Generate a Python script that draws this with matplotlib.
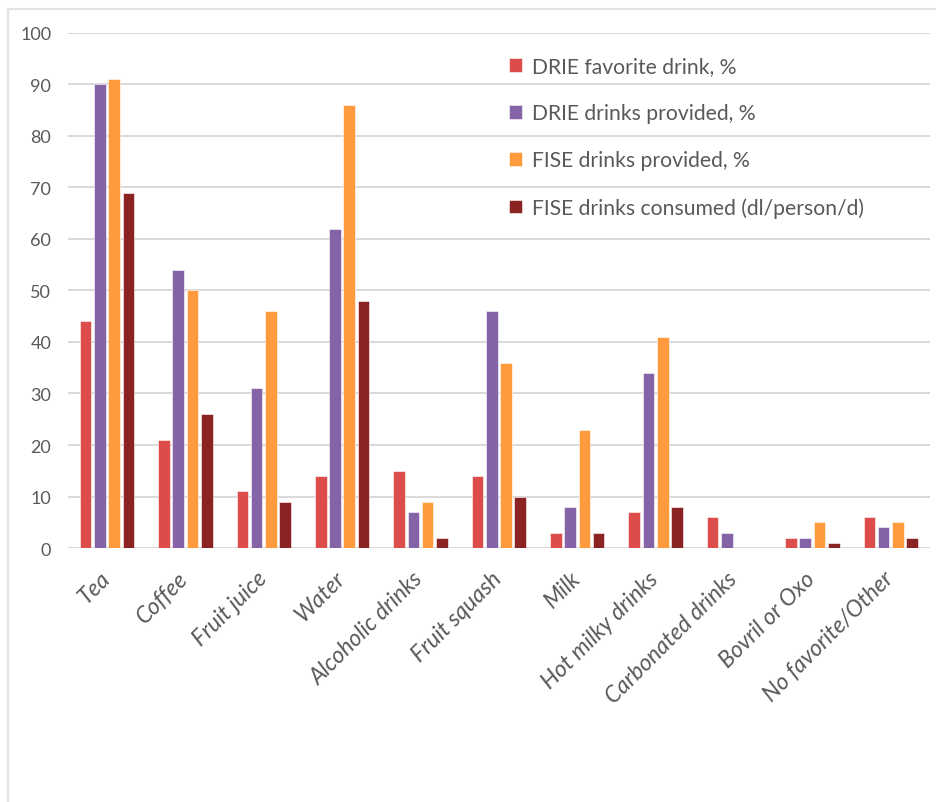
import numpy as np
import matplotlib.pyplot as plt
from matplotlib.lines import Line2D
import matplotlib.transforms as mtransforms

# Data
categories = ["Tea", "Coffee", "Fruit juice", "Water", "Alcoholic drinks",
              "Fruit squash", "Milk", "Hot milky drinks", "Carbonated drinks",
              "Bovril or Oxo", "No favorite/Other"]
drie_favorite = [44, 21, 11, 14, 15, 14, 3, 7, 6, 2, 6]
drie_provided = [90, 54, 31, 62, 7, 46, 8, 34, 3, 2, 4]
fise_provided = [91, 50, 46, 86, 9, 36, 23, 41, 0, 5, 5]
fise_consumed = [69, 26, 9, 48, 2, 10, 3, 8, 0, 1, 2]

series_labels = ["DRIE favorite drink, %", "DRIE drinks provided, %",
                 "FISE drinks provided, %", "FISE drinks consumed (dl/person/d)"]
series_colors = ["#DC4C4B", "#8563A7", "#FF9A3D", "#8B2323"]
y_ticks = [0, 10, 20, 30, 40, 50, 60, 70, 80, 90, 100]

text_color = "#595959"
grid_color = "#D9D9D9"
plt.rcParams['font.family'] = ['Lato', 'DejaVu Sans']

fig = plt.figure(figsize=(9.37, 8.03), dpi=100)
ax = fig.add_axes([0.0724, 0.3163, 0.92, 0.6414])

series = [drie_favorite, drie_provided, fise_provided, fise_consumed]
x = np.arange(len(categories))
stride = 0.182
bar_w = 0.148
for i, (vals, lab, col) in enumerate(zip(series, series_labels, series_colors)):
    offs = (i - 1.5) * stride
    ax.bar(x + offs, vals, width=bar_w, color=col, label=lab,
           edgecolor="white", linewidth=0.4, zorder=3)

ax.set_xlim(-0.5, len(categories) - 0.5)
ax.set_ylim(0, 100)
ax.set_yticks(y_ticks)
ax.yaxis.grid(True, color=grid_color, linewidth=1.4, zorder=0)
ax.set_axisbelow(True)
for s in ax.spines.values():
    s.set_visible(False)

ax.tick_params(axis="y", length=0, pad=12, labelsize=13, labelcolor=text_color)
ax.tick_params(axis="x", length=0, pad=14, labelsize=16.5, labelcolor=text_color)
ax.set_xticks(x)
ax.set_xticklabels(categories, rotation=45, ha="right", va="top", style="italic")
shift = mtransforms.ScaledTranslation(7 / 100, 0, fig.dpi_scale_trans)
for t in ax.get_xticklabels():
    t.set_transform(t.get_transform() + shift)

leg = ax.legend(loc="upper left", bbox_to_anchor=(0.512, 0.955), frameon=False,
                fontsize=15.2, labelcolor=text_color, handlelength=0.62,
                handleheight=0.62, handletextpad=0.45, labelspacing=1.28,
                borderpad=0, borderaxespad=0)

# light border of the original figure (top and left edges only)
fig.add_artist(Line2D([8 / 937, 1], [1 - 10 / 803, 1 - 10 / 803],
                      transform=fig.transFigure, color="#E3E3E3", linewidth=1.5))
fig.add_artist(Line2D([8 / 937, 8 / 937], [0, 1 - 10 / 803],
                      transform=fig.transFigure, color="#E3E3E3", linewidth=1.5))

fig.savefig("out.png", dpi=100)
